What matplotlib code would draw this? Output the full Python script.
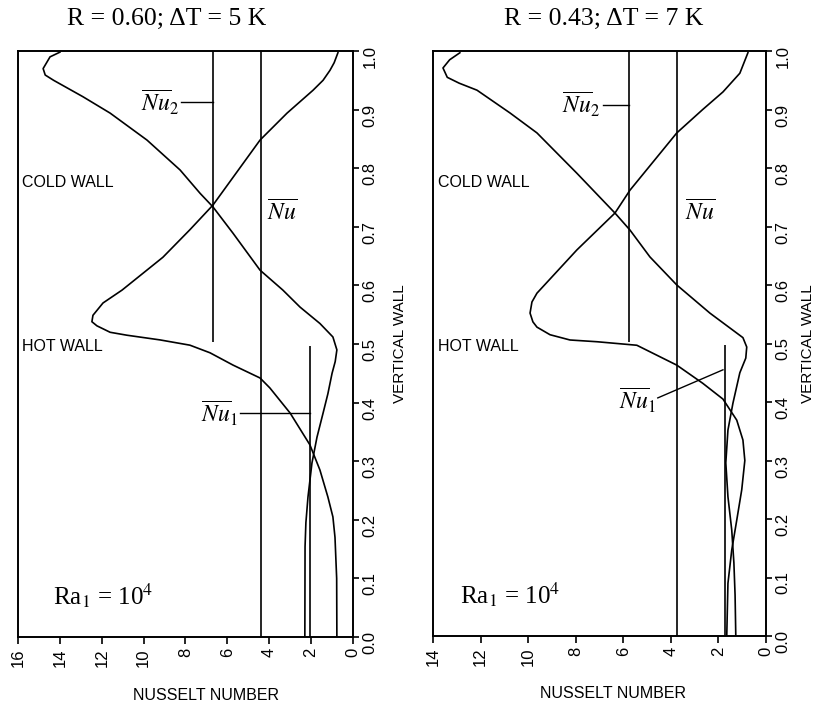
import matplotlib
matplotlib.use('Agg')
import matplotlib.pyplot as plt

plt.rcParams['font.family'] = ['Liberation Sans', 'DejaVu Sans']
plt.rcParams['mathtext.fontset'] = 'stix'

# ---- data (Nusselt number vs. height on the wall) ----
titles = ['R = 0.60; \u0394T = 5 K', 'R = 0.43; \u0394T = 7 K']
x_max = [16, 14]

# left panel: R = 0.60
cold_nu_L = [14.0, 14.47, 14.8, 14.7, 14.3, 12.9, 11.6, 9.84, 8.26, 7.3, 6.69, 5.73,
             4.44, 3.35, 2.53, 1.58, 0.96, 0.77, 0.85, 1.0, 1.2, 1.43, 1.72, 1.96,
             2.15, 2.25, 2.29, 2.3]
cold_y_L = [0.998, 0.99, 0.97, 0.959, 0.95, 0.922, 0.894, 0.848, 0.797, 0.757, 0.734,
            0.689, 0.626, 0.592, 0.563, 0.535, 0.512, 0.49, 0.47, 0.45, 0.415, 0.382,
            0.341, 0.297, 0.239, 0.195, 0.154, 0.0]
hot_nu_L = [0.72, 0.9, 1.1, 1.43, 1.91, 3.15, 4.44, 6.69, 7.79, 9.08, 11.03, 11.94,
            12.42, 12.47, 12.23, 11.6, 10.8, 9.22, 7.79, 6.83, 5.73, 4.44, 3.97, 3.0,
            2.06, 1.58, 1.2, 0.96, 0.86, 0.78, 0.77]
hot_y_L = [0.997, 0.98, 0.967, 0.95, 0.933, 0.894, 0.848, 0.737, 0.695, 0.648, 0.592,
           0.57, 0.549, 0.538, 0.531, 0.52, 0.515, 0.507, 0.498, 0.485, 0.464, 0.442,
           0.425, 0.382, 0.328, 0.285, 0.239, 0.205, 0.17, 0.1, 0.0]

# right panel: R = 0.43
cold_nu_R = [12.87, 13.3, 13.58, 13.4, 12.9, 12.15, 10.76, 9.63, 7.95, 6.35, 5.72, 4.88,
             3.75, 2.36, 1.4, 0.97, 0.81, 0.85, 1.1, 1.39, 1.6, 1.69, 1.6, 1.44, 1.35,
             1.3, 1.27]
cold_y_R = [0.997, 0.985, 0.971, 0.955, 0.945, 0.933, 0.894, 0.86, 0.791, 0.723, 0.694,
            0.648, 0.6, 0.552, 0.523, 0.51, 0.494, 0.475, 0.45, 0.398, 0.352, 0.296,
            0.238, 0.181, 0.125, 0.07, 0.0]
hot_nu_R = [0.76, 1.1, 1.81, 2.66, 3.75, 5.72, 6.35, 7.95, 9.63, 9.84, 9.92, 9.8, 9.63,
            9.08, 8.24, 7.1, 5.43, 3.75, 2.66, 1.81, 1.23, 0.97, 0.89, 1.02, 1.23, 1.44,
            1.6, 1.65]
hot_y_R = [0.997, 0.962, 0.93, 0.9, 0.86, 0.762, 0.723, 0.66, 0.586, 0.571, 0.552,
           0.537, 0.528, 0.515, 0.506, 0.503, 0.497, 0.463, 0.432, 0.405, 0.369, 0.335,
           0.3, 0.25, 0.198, 0.147, 0.09, 0.0]

# mean Nusselt numbers (vertical lines)
nu_mean = [4.4, 3.75]
nu1_mean = [2.06, 1.73]
nu2_mean = [6.69, 5.76]

panels = [
    dict(cold=(cold_nu_L, cold_y_L), hot=(hot_nu_L, hot_y_L)),
    dict(cold=(cold_nu_R, cold_y_R), hot=(hot_nu_R, hot_y_R)),
]

fig = plt.figure(figsize=(8.16, 7.10), dpi=100)
axes = [fig.add_axes([18 / 816, 73 / 710, 335 / 816, 586 / 710]),
        fig.add_axes([433 / 816, 74 / 710, 333 / 816, 585 / 710])]

lw = 1.2
for i, ax in enumerate(axes):
    p = panels[i]
    ax.plot(*p['cold'], color='black', lw=lw)
    ax.plot(*p['hot'], color='black', lw=lw)

    # mean value lines
    ax.vlines(nu_mean[i], 0, 1, color='black', lw=lw)
    ax.vlines(nu2_mean[i], 0.503, 1, color='black', lw=lw)
    ax.vlines(nu1_mean[i], 0, 0.497, color='black', lw=lw)

    ax.set_xlim(x_max[i], 0)
    ax.set_ylim(0, 1)
    ax.set_xticks(range(0, x_max[i] + 1, 2))
    ax.set_xticklabels([str(v) for v in range(0, x_max[i] + 1, 2)])
    ax.set_yticks([k / 10 for k in range(11)])
    ax.set_yticklabels(['%.1f' % (k / 10) for k in range(11)])
    ax.yaxis.tick_right()
    ax.tick_params(axis='x', direction='out', length=5, width=1.2,
                   labelrotation=90, labelsize=12, pad=3)
    ax.tick_params(axis='y', direction='out', length=4, width=1.2,
                   labelrotation=90, labelsize=12, pad=3)
    for s in ax.spines.values():
        s.set_linewidth(1.4)

    ax.text(0.445 if i == 0 else 0.514, 1.055, titles[i], transform=ax.transAxes,
            ha='center', va='center', fontsize=18.5, family='Liberation Serif')
    ax.text(0.56 if i == 0 else 0.54, -0.099, 'NUSSELT NUMBER', transform=ax.transAxes,
            ha='center', va='center', fontsize=11.5)
    ax.text(1.14 if i == 0 else 1.127, 0.5, 'VERTICAL WALL', transform=ax.transAxes,
            ha='center', va='center', rotation=90, fontsize=11)

    ax.text(x_max[i] - 0.2, 0.776, 'COLD WALL', ha='left', va='center', fontsize=11.5)
    ax.text(x_max[i] - 0.2, 0.495, 'HOT WALL', ha='left', va='center', fontsize=11.5)
    ax.text(x_max[i] - 1.67 if i == 0 else x_max[i] - 1.13, 0.07,
            r'Ra$_1$ = 10$^4$', ha='left', va='center', fontsize=18,
            family='Liberation Serif')

# labels for the mean lines
axL, axR = axes
axL.text(8.3, 0.913, r'$\overline{Nu}_2$', ha='right', va='center', fontsize=17)
axL.plot([8.2, nu2_mean[0]], [0.913, 0.913], color='black', lw=1.0)
axL.text(4.1, 0.724, r'$\overline{Nu}$', ha='left', va='center', fontsize=17)
axL.text(5.5, 0.382, r'$\overline{Nu}_1$', ha='right', va='center', fontsize=17)
axL.plot([5.4, nu1_mean[0]], [0.382, 0.382], color='black', lw=1.0)

axR.text(6.95, 0.908, r'$\overline{Nu}_2$', ha='right', va='center', fontsize=17)
axR.plot([6.86, nu2_mean[1]], [0.908, 0.908], color='black', lw=1.0)
axR.text(3.41, 0.723, r'$\overline{Nu}$', ha='left', va='center', fontsize=17)
axR.text(4.62, 0.403, r'$\overline{Nu}_1$', ha='right', va='center', fontsize=17)
axR.plot([4.55, nu1_mean[1] + 0.08], [0.407, 0.455], color='black', lw=1.0)

fig.savefig('out.png', dpi=100, facecolor='white')
